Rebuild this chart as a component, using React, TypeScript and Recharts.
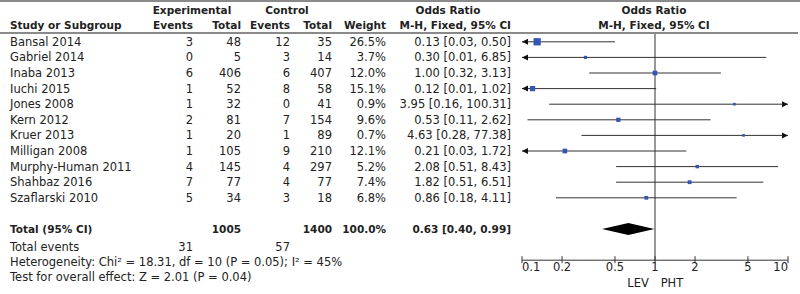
import { ComposedChart, XAxis, YAxis, Scatter, ReferenceLine, ReferenceDot, ReferenceArea, Customized } from 'recharts'

const STUDIES = ['Bansal 2014', 'Gabriel 2014', 'Inaba 2013', 'Iuchi 2015', 'Jones 2008', 'Kern 2012', 'Kruer 2013', 'Milligan 2008', 'Murphy-Human 2011', 'Shahbaz 2016', 'Szaflarski 2010']
const EXP_EVENTS = [3, 0, 6, 1, 1, 2, 1, 1, 4, 7, 5]
const EXP_TOTAL = [48, 5, 406, 52, 32, 81, 20, 105, 145, 77, 34]
const CTRL_EVENTS = [12, 3, 6, 8, 0, 7, 1, 9, 4, 4, 3]
const CTRL_TOTAL = [35, 14, 407, 58, 41, 154, 89, 210, 297, 77, 18]
const WEIGHT = [26.5, 3.7, 12.0, 15.1, 0.9, 9.6, 0.7, 12.1, 5.2, 7.4, 6.8]
const OR = [0.13, 0.30, 1.00, 0.12, 3.95, 0.53, 4.63, 0.21, 2.08, 1.82, 0.86]
const LO = [0.03, 0.01, 0.32, 0.01, 0.16, 0.11, 0.28, 0.03, 0.51, 0.51, 0.18]
const HI = [0.50, 6.85, 3.13, 1.02, 100.31, 2.62, 77.38, 1.72, 8.43, 6.51, 4.11]

const TOTAL = { or: 0.63, lo: 0.40, hi: 0.99, exp: 1005, ctrl: 1400, expEvents: 31, ctrlEvents: 57 }
const TICKS = [0.1, 0.2, 0.5, 1, 2, 5, 10]
const X_MIN = 0.1
const X_MAX = 10
const TOTAL_ROW = 12

const W = 800
const H = 294
const TOP = 34
const ROW_H = 15.6
const Y_MIN = -0.5
const Y_MAX = 14
const FONT = '"DejaVu Sans", Verdana, sans-serif'
const FS = 11.5
const FS_BOLD = 10.5
const INK = '#222'
const BLUE = '#3555b0'
const GRID = '#8a8a8a'

const rowY = (i: number) => TOP + (i - Y_MIN) * ROW_H
const fmt2 = (v: number) => v.toFixed(2)
const ciText = (o: number, l: number, h: number) => `${fmt2(o)} [${fmt2(l)}, ${fmt2(h)}]`

const points = STUDIES.map((s, i) => ({ x: OR[i], y: i, w: WEIGHT[i] }))

function Square(props: any) {
  const { cx, cy, payload } = props
  const side = 2.5 + payload.w * 0.18
  return <rect x={cx - side / 2} y={cy - side / 2} width={side} height={side} fill={BLUE} />
}

function ArrowLeft(props: any) {
  const { cx, cy } = props
  return <path d={`M${cx},${cy} L${cx + 6},${cy - 3} L${cx + 6},${cy + 3} Z`} fill="#111" />
}

function ArrowRight(props: any) {
  const { cx, cy } = props
  return <path d={`M${cx},${cy} L${cx - 6},${cy - 3} L${cx - 6},${cy + 3} Z`} fill="#111" />
}

function Diamond(props: any) {
  const { x, y, width, height } = props
  const f = (Math.log(TOTAL.or) - Math.log(TOTAL.lo)) / (Math.log(TOTAL.hi) - Math.log(TOTAL.lo))
  const cx = x + width * f
  const cy = y + height / 2
  return <path d={`M${x},${cy} L${cx},${y} L${x + width},${cy} L${cx},${y + height} Z`} fill="#000" />
}

function Tick(props: any) {
  const { x, y, payload, index } = props
  const anchor = index === 0 ? 'start' : index === TICKS.length - 1 ? 'end' : 'middle'
  return (
    <g>
      <line x1={x} x2={x} y1={y - 4} y2={y + 3} stroke="#333" strokeWidth={1} />
      <text x={x} y={y + 11} textAnchor={anchor} fontFamily={FONT} fontSize={FS} fill={INK}>{payload.value}</text>
    </g>
  )
}

function T({ x, y, children, anchor = 'end', bold = false }: any) {
  return (
    <text x={x} y={y} textAnchor={anchor} dominantBaseline="central" fontFamily={FONT}
      fontSize={bold ? FS_BOLD : FS} fontWeight={bold ? 'bold' : 'normal'} fill={INK}>
      {children}
    </text>
  )
}

function Table() {
  const tr = rowY(TOTAL_ROW)
  return (
    <g>
      <rect x={0} y={0} width={W} height={2} fill={GRID} />
      <rect x={0} y={32} width={798} height={2} fill={GRID} />
      <T x={192} y={10} anchor="middle" bold>Experimental</T>
      <T x={287} y={10} anchor="middle" bold>Control</T>
      <T x={448} y={10} anchor="middle" bold>Odds Ratio</T>
      <T x={654} y={10} anchor="middle" bold>Odds Ratio</T>
      <T x={10} y={25} anchor="start" bold>Study or Subgroup</T>
      <T x={193} y={25} bold>Events</T>
      <T x={241} y={25} bold>Total</T>
      <T x={290} y={25} bold>Events</T>
      <T x={332} y={25} bold>Total</T>
      <T x={386} y={25} bold>Weight</T>
      <T x={511} y={25} bold>M-H, Fixed, 95% CI</T>
      <T x={654} y={25} anchor="middle" bold>M-H, Fixed, 95% CI</T>
      {STUDIES.map((s, i) => (
        <g key={s}>
          <T x={10} y={rowY(i)} anchor="start">{s}</T>
          <T x={193} y={rowY(i)}>{EXP_EVENTS[i]}</T>
          <T x={241} y={rowY(i)}>{EXP_TOTAL[i]}</T>
          <T x={290} y={rowY(i)}>{CTRL_EVENTS[i]}</T>
          <T x={332} y={rowY(i)}>{CTRL_TOTAL[i]}</T>
          <T x={386} y={rowY(i)}>{WEIGHT[i].toFixed(1)}%</T>
          <T x={511} y={rowY(i)}>{ciText(OR[i], LO[i], HI[i])}</T>
        </g>
      ))}
      <T x={10} y={tr} anchor="start" bold>Total (95% CI)</T>
      <T x={241} y={tr} bold>{TOTAL.exp}</T>
      <T x={332} y={tr} bold>{TOTAL.ctrl}</T>
      <T x={386} y={tr} bold>100.0%</T>
      <T x={511} y={tr} bold>{ciText(TOTAL.or, TOTAL.lo, TOTAL.hi)}</T>
      <T x={10} y={247} anchor="start">Total events</T>
      <T x={193} y={247}>{TOTAL.expEvents}</T>
      <T x={290} y={247}>{TOTAL.ctrlEvents}</T>
      <T x={10} y={262} anchor="start">Heterogeneity: Chi² = 18.31, df = 10 (P = 0.05); I² = 45%</T>
      <T x={10} y={277} anchor="start">Test for overall effect: Z = 2.01 (P = 0.04)</T>
      <T x={638} y={283} anchor="middle">LEV</T>
      <T x={672} y={283} anchor="middle">PHT</T>
    </g>
  )
}

export default function App() {
  return (
    <div style={{ position: 'absolute', left: 0, top: 0, width: W, height: H, background: '#fff' }}>
      <ComposedChart width={W} height={H} data={points} margin={{ top: TOP, right: 12, bottom: 0, left: 522 }}>
        <XAxis type="number" dataKey="x" scale="log" domain={[X_MIN, X_MAX]} ticks={TICKS} allowDataOverflow
          height={H - rowY(Y_MAX)} tickSize={0} tickMargin={0} tick={<Tick />} axisLine={{ stroke: '#333' }} tickLine={false} interval={0} />
        <YAxis type="number" dataKey="y" domain={[Y_MIN, Y_MAX]} reversed hide allowDataOverflow />
        <Customized component={<Table />} />
        <ReferenceLine x={1} stroke="#333" strokeWidth={1} />
        {STUDIES.map((s, i) => (
          <ReferenceLine key={'ci' + s}
            segment={[{ x: Math.max(LO[i], X_MIN), y: i }, { x: Math.min(HI[i], X_MAX), y: i }]}
            stroke="#333" strokeWidth={1} ifOverflow="visible" />
        ))}
        {STUDIES.map((s, i) => LO[i] < X_MIN ? (
          <ReferenceDot key={'al' + s} x={X_MIN} y={i} shape={<ArrowLeft />} ifOverflow="visible" />
        ) : null)}
        {STUDIES.map((s, i) => HI[i] > X_MAX ? (
          <ReferenceDot key={'ar' + s} x={X_MAX} y={i} shape={<ArrowRight />} ifOverflow="visible" />
        ) : null)}
        <Scatter dataKey="y" shape={<Square />} isAnimationActive={false} />
        <ReferenceArea x1={TOTAL.lo} x2={TOTAL.hi} y1={TOTAL_ROW - 0.39} y2={TOTAL_ROW + 0.39} shape={<Diamond />} ifOverflow="visible" />
      </ComposedChart>
    </div>
  )
}
